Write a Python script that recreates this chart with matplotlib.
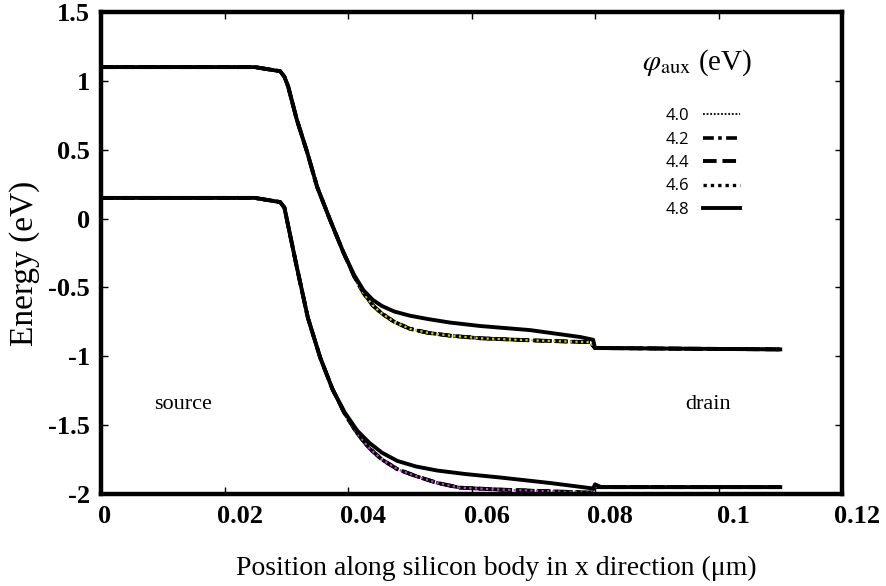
import matplotlib
matplotlib.use("Agg")
import matplotlib.pyplot as plt
from matplotlib.lines import Line2D
from matplotlib.transforms import ScaledTranslation

plt.rcParams["font.family"] = ["Liberation Serif", "DejaVu Serif"]
plt.rcParams["mathtext.fontset"] = "stix"

# conduction band (upper) and valence band (lower) along the channel
# 4.8 eV curve separates from the others; 4.0-4.6 eV curves lie on top of each other
ec_x_48 = [0, 0.0249, 0.0290, 0.0297, 0.0303, 0.0317, 0.0334, 0.0350, 0.0371,
           0.0392, 0.0410, 0.0425, 0.0440, 0.0455, 0.0475, 0.0500, 0.0530,
           0.0565, 0.0614, 0.0695, 0.0776, 0.0797, 0.0800, 0.1100]
ec_y_48 = [1.10, 1.10, 1.07, 1.03, 0.96, 0.72, 0.48, 0.23, -0.01,
           -0.24, -0.41, -0.52, -0.59, -0.635, -0.675, -0.705, -0.73,
           -0.755, -0.78, -0.81, -0.86, -0.88, -0.94, -0.95]

ec_x_low = [0, 0.0249, 0.0290, 0.0297, 0.0303, 0.0317, 0.0334, 0.0350, 0.0371,
            0.0392, 0.0410, 0.0425, 0.0440, 0.0455, 0.0475, 0.0500, 0.0530,
            0.0565, 0.0614, 0.0695, 0.0792, 0.0800, 0.1100]
ec_y_low = [1.10, 1.10, 1.07, 1.03, 0.96, 0.72, 0.48, 0.23, -0.01,
            -0.24, -0.42, -0.54, -0.63, -0.69, -0.75, -0.80, -0.83,
            -0.85, -0.869, -0.884, -0.898, -0.94, -0.95]

ev_x_48 = [0, 0.0249, 0.0290, 0.0297, 0.0303, 0.0317, 0.0335, 0.0355, 0.0375,
           0.0395, 0.0415, 0.0435, 0.0455, 0.0480, 0.0510, 0.0545, 0.0590,
           0.0646, 0.0727, 0.0797, 0.0800, 0.0810, 0.1100]
ev_y_48 = [0.15, 0.15, 0.12, 0.08, -0.05, -0.35, -0.72, -1.01, -1.24,
           -1.41, -1.54, -1.63, -1.70, -1.76, -1.80, -1.83, -1.855,
           -1.88, -1.92, -1.96, -1.93, -1.95, -1.95]

ev_x_low = [0, 0.0249, 0.0290, 0.0297, 0.0303, 0.0317, 0.0335, 0.0355, 0.0375,
            0.0395, 0.0415, 0.0435, 0.0455, 0.0480, 0.0510, 0.0545, 0.0581,
            0.0646, 0.0792, 0.0800, 0.1100]
ev_y_low = [0.15, 0.15, 0.12, 0.08, -0.05, -0.35, -0.72, -1.01, -1.24,
            -1.42, -1.56, -1.67, -1.75, -1.82, -1.87, -1.92, -1.954,
            -1.968, -1.99, -1.95, -1.95]

phi_aux = ["4.0", "4.2", "4.4", "4.6", "4.8"]
xticks = [0, 0.02, 0.04, 0.06, 0.08, 0.1, 0.12]
xtick_labels = ["0", "0.02", "0.04", "0.06", "0.08", "0.1", "0.12"]
yticks = [-2, -1.5, -1, -0.5, 0, 0.5, 1, 1.5]
ytick_labels = ["-2", "-1.5", "-1", "-0.5", "0", "0.5", "1", "1.5"]

styles = {
    "4.0": dict(ls=(0, (1, 1)), lw=1.3),
    "4.2": dict(ls=(0, (3, 1.2, 1, 1.2)), lw=2.6),
    "4.4": dict(ls=(0, (3.5, 1.5)), lw=2.8),
    "4.6": dict(ls=(0, (1, 1.2)), lw=2.4),
    "4.8": dict(ls="-", lw=2.8),
}

fig = plt.figure(figsize=(8.86, 5.86), dpi=100)
ax = fig.add_axes([101 / 886, 1 - 494 / 586, 741 / 886, 482 / 586])

# the 4.0 eV curves carry a colour, the rest are black
for phi in ["4.2", "4.4", "4.6"]:
    ax.plot(ec_x_low, ec_y_low, color="black", **styles[phi])
    ax.plot(ev_x_low, ev_y_low, color="black", **styles[phi])
ax.plot(ec_x_low, ec_y_low, color="#d4cc00", ls=(0.5, (1, 1.5)), lw=1.6)
ax.plot(ev_x_low, ev_y_low, color="#c040d0", ls=(0.5, (1, 1.5)), lw=1.6)
ax.plot(ec_x_48, ec_y_48, color="black", **styles["4.8"])
ax.plot(ev_x_48, ev_y_48, color="black", **styles["4.8"])

ax.set_xlim(0, 0.12)
ax.set_ylim(-2, 1.5)
ax.set_xticks(xticks)
ax.set_xticklabels(xtick_labels, fontsize=19, fontweight="bold")
ax.set_yticks(yticks)
ax.set_yticklabels(ytick_labels, fontsize=19, fontweight="bold")
ax.tick_params(direction="in", length=5, width=1, top=True, right=True, pad=8)
ax.tick_params(axis="y", pad=8)
for sp in ax.spines.values():
    sp.set_linewidth(3.2)

# x tick labels sit a bit right of their ticks
for i, lab in enumerate(ax.get_xticklabels()):
    dx = 0.04 if i == 0 else 0.15
    lab.set_transform(lab.get_transform() + ScaledTranslation(dx, 0, fig.dpi_scale_trans))

fig.text(496 / 886, 1 - 568 / 586, "Position along silicon body in x direction (\u03bcm)",
         fontsize=20, ha="center", va="center")
fig.text(25 / 886, 1 - 263 / 586, "Energy (eV)", fontsize=24, rotation=90,
         ha="center", va="center")

ax.text(0.0133, -1.35, "source", fontsize=16, ha="center", va="center")
ax.text(0.0983, -1.35, "drain", fontsize=16, ha="center", va="center")

# legend: labels on the left, line samples on the right
fig.text(697 / 886, 1 - 63 / 586, r"$\varphi_{\mathrm{aux}}$ (eV)", fontsize=21,
         ha="center", va="center")
handles = [Line2D([], [], color="black", **styles[p]) for p in phi_aux]
leg = ax.legend(handles, phi_aux, markerfirst=False, frameon=False,
                loc="upper left", bbox_to_anchor=(666 / 886, 1 - 108 / 586),
                bbox_transform=fig.transFigure, prop={"family": "Open Sans", "size": 12},
                handlelength=2.2, handletextpad=0.8, labelspacing=0.45,
                borderpad=0, borderaxespad=0)

fig.savefig("out.png", dpi=100)
